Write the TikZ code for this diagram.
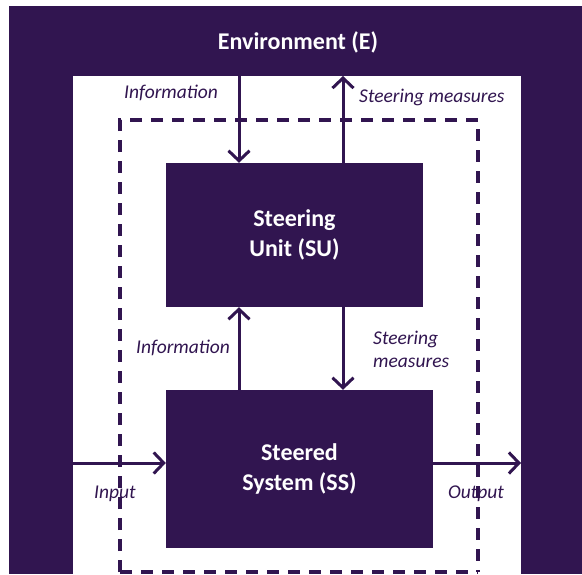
\documentclass[tikz,border=0pt]{standalone}
\usepackage{fontspec}
\setmainfont{Carlito}
\usetikzlibrary{arrows.meta}
\definecolor{envpurple}{RGB}{49,21,80}
\tikzset{
	unit/.style = {fill=envpurple, text=white, align=center, inner sep=0pt, font=\fontsize{24}{30}\selectfont\bfseries},
	flow/.style = {draw=envpurple, line width=3pt, -{Straight Barb[length=10pt, width=21pt, line width=3pt]}},
	lbl/.style = {text=envpurple, inner sep=0pt, font=\fontsize{19.5}{23}\selectfont\itshape},
	border/.style = {draw=envpurple, line width=3.5pt, dash pattern=on 12pt off 9pt}
}

\begin{document}
\begin{tikzpicture}[x=1pt, y=-1pt]
	\useasboundingbox (0,0) rectangle (582,574);
	% environment frame
	\fill[envpurple] (9,6) rectangle (582,574);
	\fill[white] (73,76) rectangle (521,574);
	\node [text=white, font=\fontsize{24}{28}\selectfont\bfseries] (env) at (298,42) {Environment (E)};
	% system border
	\draw[border] (120,572) -- (120,120) -- (478,120) -- (478,572);
	\draw[border] (120,572) -- (478,572);
	% units
	\node [unit, minimum width=257pt, minimum height=144pt] (su) at (294.5,235) {Steering\\Unit (SU)};
	\node [unit, minimum width=267pt, minimum height=158pt] (ss) at (299.5,469) {Steered\\System (SS)};
	% free ends
	\coordinate (envinfo) at (239,76);
	\coordinate (envsteer) at (343,76);
	\coordinate (input) at (73,463);
	\coordinate (output) at (521,463);
	% connectors
	\draw[flow] (envinfo) -- (su.north -| envinfo);
	\draw[flow] (su.north -| envsteer) -- (envsteer);
	\draw[flow] (ss.north -| envinfo) -- (su.south -| envinfo);
	\draw[flow] (su.south -| envsteer) -- (ss.north -| envsteer);
	\draw[flow] (input) -- (ss.west |- input);
	\draw[flow] (ss.east |- output) -- (output);
	% labels
	\node [lbl, anchor=east] (infotop) at (218,93) {Information};
	\node [lbl, anchor=west] (steertop) at (359,97) {Steering measures};
	\node [lbl, anchor=east] (infomid) at (230,348) {Information};
	\node [lbl, anchor=west, align=left] (steermid) at (373,349) {Steering\\measures};
	\node [lbl] (inlbl) at (115,494) {Input};
	\node [lbl] (outlbl) at (476,494) {Output};
\end{tikzpicture}
\end{document}
